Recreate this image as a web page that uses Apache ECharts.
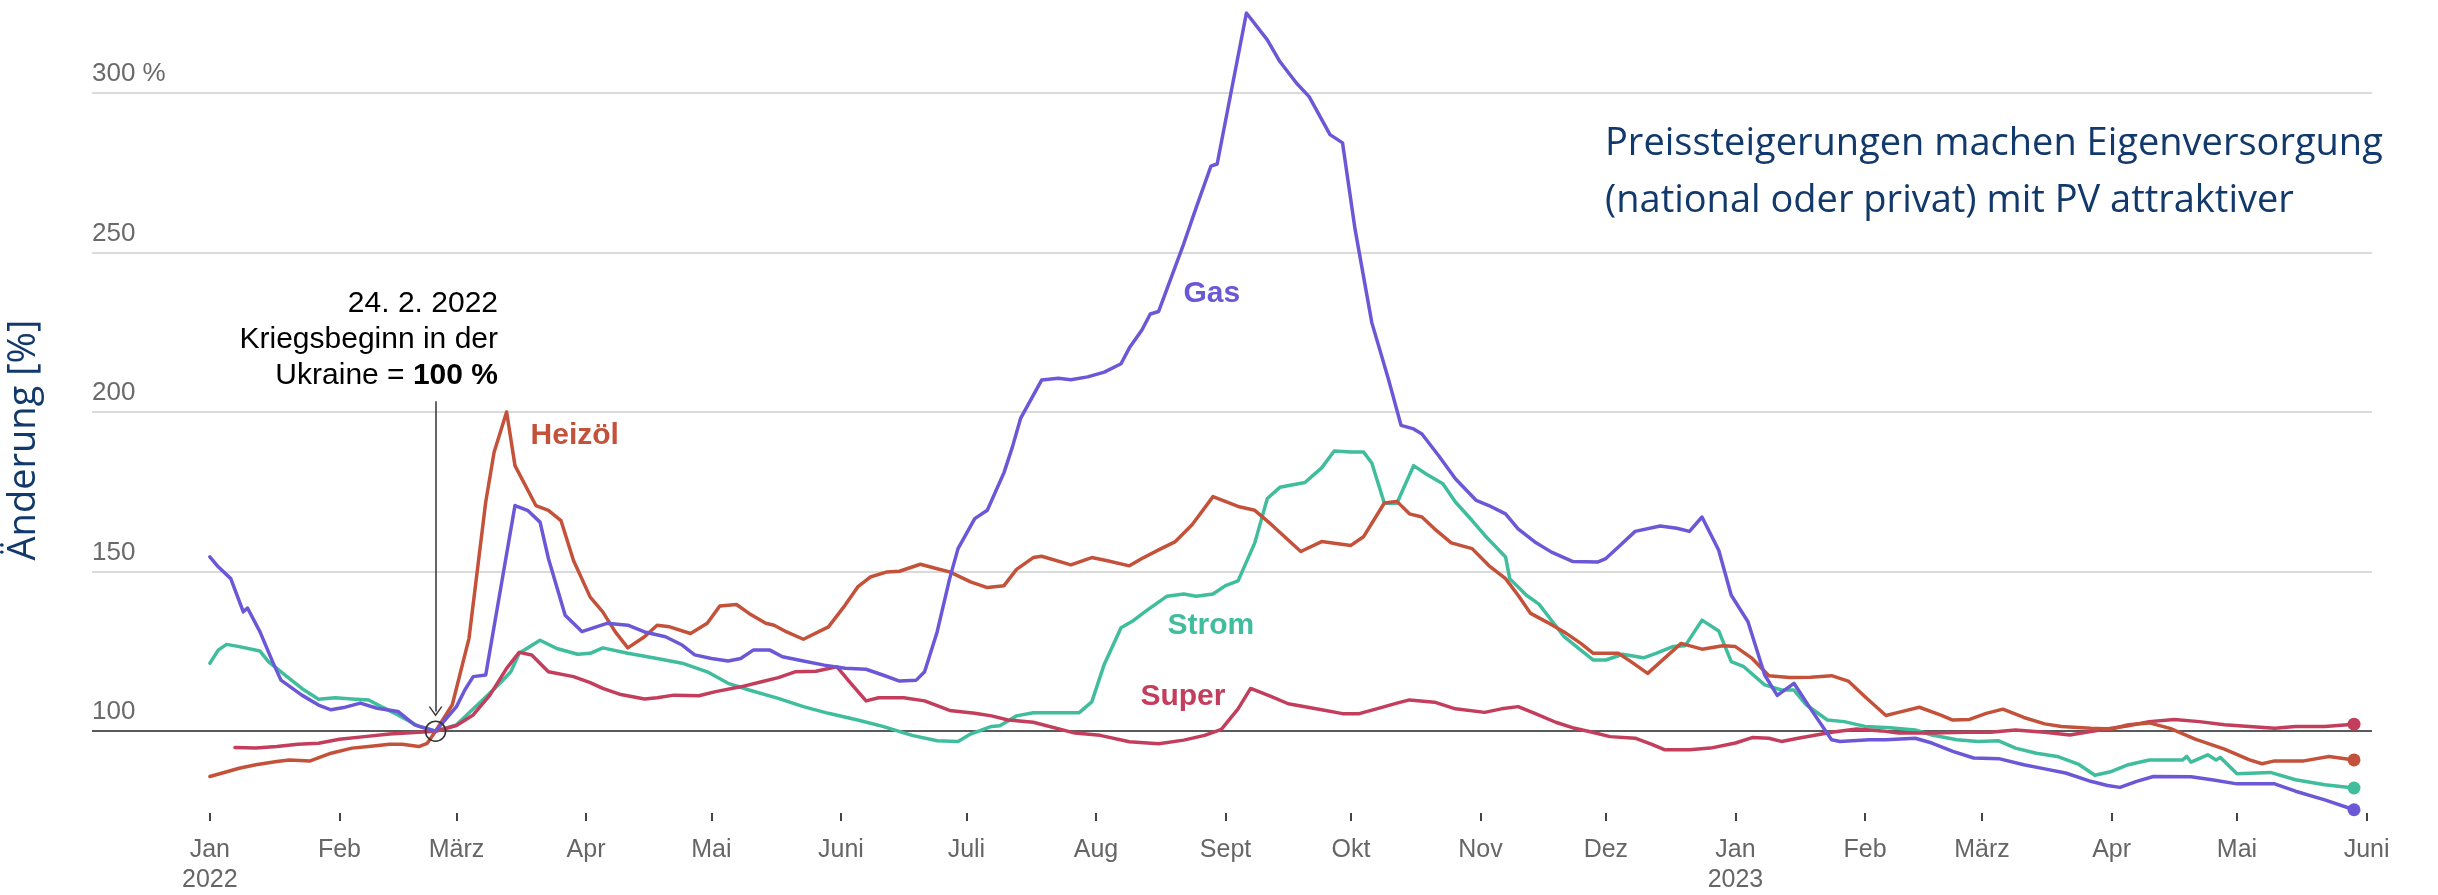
<!DOCTYPE html>
<html><head><meta charset="utf-8">
<script src="https://cdn.jsdelivr.net/npm/echarts@6/dist/echarts.min.js"></script>
<style>html,body{margin:0;padding:0;background:#fff}#c{width:2438px;height:895px}</style>
</head><body><div id="c"></div>
<script>
// x = days since 1 Jan 2022, y = index (24.2.2022 = 100)
const monthTickDays = [0,31,59,90,120,151,181,212,243,273,304,334,365,396,424,455,485,516];
const monthTickLabels = ['Jan\n2022','Feb','März','Apr','Mai','Juni','Juli','Aug','Sept','Okt','Nov','Dez','Jan\n2023','Feb','März','Apr','Mai','Juni'];
const yTickLabels = [100,150,200,250,300];
const warStartDay = 54;

const gas = [[0,154.6],[2,151.5],[5,147.8],[8,137.4],[9,138.6],[12,131.1],[15,121.8],[17,116.0],[22,111.3],[26,108.2],[29,106.7],[32,107.4],[36,108.8],[40,107.2],[45,106.2],[49,102.0],[54,100],[59,107.7],[61,112.9],[63,117.1],[66,117.6],[73,170.7],[76,169.2],[79,165.5],[81,154.1],[85,136.3],[89,131.2],[95,133.8],[100,133.2],[104,131.1],[109,129.6],[113,127.0],[116,123.9],[120,122.8],[124,122.0],[127,122.8],[130,125.4],[134,125.4],[137,123.3],[142,122.0],[147,120.7],[152,119.7],[157,119.4],[161,117.6],[165,115.7],[169,116.0],[171,118.6],[174,131.1],[177,147.8],[179,157.2],[183,166.6],[186,169.2],[190,181],[192,189],[194,198.1],[199,210],[203,210.6],[206,210.1],[210,211],[214,212.5],[218,215.1],[220,220.1],[223,225.7],[225,230.7],[227,231.5],[230,242.1],[233,252.7],[236,264.1],[239.5,277.0],[241,277.7],[248,325],[253,316.6],[256,309.8],[260,303],[263,298.8],[268,286.9],[271,284.3],[274,257.2],[278,228],[282,210.2],[285,195.8],[288,194.7],[290,193.1],[294,186.3],[298,179.1],[303,172.3],[306,170.7],[310,168.1],[313,163.4],[317,159.3],[321,156.1],[326,153.2],[332,153.0],[334,154.1],[337,157.7],[341,162.6],[347,164.3],[351,163.6],[354,162.6],[357,167.1],[361,156.7],[364,142.6],[368,134.3],[372,117.6],[375,111.2],[379,115.0],[383,107],[388,97.3],[390,96.8],[397,97.3],[401,97.3],[408,97.8],[412,96.3],[417,93.7],[422,91.6],[428,91.4],[434,89.5],[439,88.2],[444,86.9],[450,84.3],[454,83.0],[457,82.4],[461,84.3],[465,85.8],[474,85.7],[479,84.8],[485,83.5],[494,83.5],[499,81.2],[506,78.5],[513,75.4]];

const heizoel = [[0,85.8],[3,86.9],[7,88.4],[11,89.5],[16,90.5],[19,91.0],[24,90.7],[29,93.1],[34,94.7],[38,95.2],[43,95.9],[46,95.9],[50,95.2],[52,96.2],[54,100],[58,108.3],[62,129.1],[66,171.8],[68,187.4],[71,200],[73,183.2],[78,170.7],[81,169.2],[84,166.0],[87,153.5],[91,142],[94,137.4],[97,131.1],[100,126.1],[104,129.6],[107,133.2],[110,132.7],[115,130.6],[119,133.8],[122,139.2],[126,139.7],[129,136.9],[133,133.8],[135,133.2],[138,131.1],[142,128.8],[148,132.7],[152,139.5],[155,145.2],[158,148.3],[162,149.9],[165,150.1],[170,152.3],[174,150.9],[177,149.9],[182,146.8],[186,145.0],[190,145.6],[193,150.7],[197,154.4],[199,154.8],[206,152.1],[211,154.4],[215,153.3],[220,151.8],[223,154.1],[227,156.8],[231,159.4],[235,164.7],[240,173.5],[246,170.4],[250,169.2],[254,164.7],[261,156.3],[266,159.4],[273,158.2],[276,160.9],[281,171.5],[284,172.0],[287,168.1],[290,167.1],[293,163.4],[297,159.0],[302,157.2],[306,151.9],[310,147.8],[313,142.6],[316,136.9],[320,134.1],[324,131.1],[328,127.5],[331,124.4],[337,124.4],[340,121.8],[344,118.1],[348,122.8],[352,127.5],[357,125.7],[362,126.8],[365,126.5],[369,122.8],[373,117.4],[378,116.8],[383,116.9],[388,117.4],[392,115.7],[396,110.8],[401,104.9],[404,105.9],[409,107.5],[414,105.1],[417,103.5],[421,103.7],[425,105.6],[429,106.9],[434,104.3],[439,102.3],[443,101.5],[450,100.9],[455,100.7],[459,102.0],[464,102.6],[469,100.9],[475,97.5],[482,94.4],[488,91.0],[491,89.8],[494,90.7],[501,90.7],[507,92.1],[513,91.0]];

const strom = [[0,121.3],[2,125.4],[4,127.2],[7,126.5],[12,125.1],[14,121.8],[18,117.6],[22,113.4],[26,110.0],[30,110.5],[34,110.1],[38,109.8],[41,107.7],[45,105.1],[50,101.5],[54,100],[59,102.0],[64,108.2],[69,114.5],[72,118.6],[74,124.4],[79,128.5],[83,125.9],[88,124.1],[91,124.4],[94,126.1],[100,124.4],[107,122.8],[113,121.3],[119,118.6],[124,115.0],[129,112.9],[136,110.3],[142,107.7],[148,105.6],[155,103.5],[161,101.5],[168,98.7],[174,97.0],[179,96.8],[182,99.1],[187,101.5],[189,101.7],[193,104.8],[197,105.8],[208,105.8],[211,109.2],[214,121.0],[218,132.4],[221,134.7],[224,137.7],[229,142.3],[233,143.0],[236,142.3],[240,143.0],[243,145.6],[246,147.1],[250,159.0],[253,172.9],[256,176.4],[262,177.9],[266,182.5],[269,187.8],[273,187.5],[276,187.5],[278,184.0],[281,171.4],[284,171.4],[288,183.2],[291,180.6],[295,177.5],[298,171.8],[302,166.0],[305,161.4],[310,154.6],[311,147.8],[315,142.6],[318,139.8],[320,136.4],[324,129.6],[328,125.4],[331,122.3],[334,122.3],[338,124.1],[343,123.0],[346,124.4],[350,126.5],[353,126.8],[357,134.8],[361,131.4],[364,121.8],[367,120.2],[372,114.5],[376,112.9],[379,112.9],[382,108.2],[387,103.5],[391,103.0],[396,101.5],[402,101.1],[408,100.4],[412,98.8],[418,97.3],[423,96.8],[428,97.0],[432,94.7],[437,93.1],[442,92.1],[447,89.7],[451,86.2],[455,87.4],[459,89.5],[464,91.0],[472,91.0],[473,92.1],[474,90.3],[478,92.6],[480,91.0],[481,91.8],[485,86.7],[493,87.1],[499,84.8],[506,83.2],[513,82.2]];

const superBenzin = [[6,94.9],[11,94.7],[16,95.2],[21,95.9],[26,96.2],[31,97.5],[37,98.3],[43,99.1],[50,99.7],[54,100],[59,101.8],[63,105.1],[67,111.3],[71,119.7],[74,124.7],[77,123.9],[81,118.6],[87,117.1],[91,115.2],[94,113.4],[98,111.6],[104,110.1],[107,110.5],[111,111.3],[117,111.1],[121,112.4],[127,113.9],[132,115.5],[136,116.8],[140,118.6],[145,118.8],[150,120.2],[153,115.5],[157,109.5],[160,110.5],[166,110.5],[171,109.5],[177,106.5],[183,105.6],[187,104.8],[191,103.5],[197,102.8],[207,99.4],[213,98.7],[220,96.7],[227,96.1],[233,97.2],[238,98.7],[242,100.6],[246,107.0],[249,113.4],[254,110.8],[258,108.6],[266,106.7],[271,105.5],[275,105.5],[280,107.3],[284,108.8],[287,109.8],[293,109.1],[298,107.0],[305,105.9],[309,107.0],[313,107.7],[317,105.6],[322,102.8],[326,101.1],[330,99.9],[335,98.3],[341,97.8],[345,95.9],[348,94.2],[354,94.2],[359,94.7],[365,96.3],[369,98.0],[373,97.8],[376,96.8],[380,97.8],[383,98.5],[388,99.7],[394,100.7],[400,100.1],[404,99.4],[412,99.4],[420,99.7],[426,99.7],[432,100.4],[439,99.7],[445,98.8],[450,99.9],[455,100.9],[459,101.7],[464,103.0],[470,103.7],[476,103.0],[482,102.0],[488,101.5],[494,100.9],[499,101.5],[506,101.5],[513,102.2]];

const seriesNames = ['Strom','Super','Heizöl','Gas'];
const seriesData = [strom, superBenzin, heizoel, gas];
const seriesColors = ['#3fbd9c','#c23e5c','#c4523b','#6a58d6'];
// label anchor points (day, value) for the in-chart series names
const nameAnchors = [[239.5,133.1],[232.8,110.9],[87.3,192.5],[239.7,237.2]];

const FONT = '"Liberation Sans", Arial, sans-serif';
const chart = echarts.init(document.getElementById('c'), null, {renderer:'canvas'});

const chevron = 'path://M0,10L7,0L14,10L12.4,10L7,2.4L1.6,10Z';

const series = seriesNames.map((name, i) => {
  const d = seriesData[i];
  const last = d[d.length - 1];
  const s = {
    name, type: 'line', data: d, showSymbol: false, z: 3,
    lineStyle: {color: seriesColors[i], width: 3.5, join: 'round', cap: 'round'},
    itemStyle: {color: seriesColors[i]},
    emphasis: {disabled: true},
    animation: false,
    markPoint: {
      silent: true, animation: false,
      data: [
        {coord: last, symbol: 'circle', symbolSize: 13, itemStyle: {color: seriesColors[i]}, label: {show: false}},
        {coord: nameAnchors[i], symbol: 'circle', symbolSize: 1, itemStyle: {color: 'rgba(0,0,0,0)'},
         label: {show: true, position: 'inside', formatter: name, color: seriesColors[i],
                 fontFamily: FONT, fontWeight: 'bold', fontSize: 30}}
      ]
    }
  };
  if (i === 0) {
    s.markLine = {
      silent: true, animation: false, z: 1, symbol: 'none',
      label: {show: false},
      data: [
        {yAxis: 150, lineStyle: {color: '#dadada', width: 2, type: 'solid'}},
        {yAxis: 200, lineStyle: {color: '#dadada', width: 2, type: 'solid'}},
        {yAxis: 250, lineStyle: {color: '#dadada', width: 2, type: 'solid'}},
        {yAxis: 300, lineStyle: {color: '#dadada', width: 2, type: 'solid'}},
        {yAxis: 100, lineStyle: {color: '#5a5a5a', width: 2, type: 'solid'}}
      ]
    };
  }
  if (i === 2) {
    s.markLine = {
      silent: true, animation: false, z: 5,
      symbol: ['none', chevron], symbolSize: [14, 10],
      label: {show: false},
      lineStyle: {color: '#333', width: 1.5, type: 'solid'},
      data: [[{coord: [warStartDay, 203.4]}, {coord: [warStartDay, 106.2]}]]
    };
    s.markPoint.data.push({coord: [warStartDay, 100], symbol: 'circle', symbolSize: 20,
      itemStyle: {color: 'rgba(0,0,0,0)', borderColor: '#333', borderWidth: 1.6}, label: {show: false}});
  }
  return s;
});

chart.setOption({
  animation: false,
  backgroundColor: '#fff',
  grid: {left: 92, right: 66, top: 13, bottom: 82, containLabel: false},
  xAxis: {
    type: 'value', min: -28.2, max: 517.3, offset: 2,
    axisLine: {show: false},
    splitLine: {show: false},
    axisTick: {show: true, length: 8, customValues: monthTickDays, lineStyle: {color: '#444', width: 2}},
    axisLabel: {
      customValues: monthTickDays, margin: 22, lineHeight: 30,
      fontFamily: FONT, fontSize: 25, color: '#666',
      formatter: v => { const k = monthTickDays.indexOf(v); return k >= 0 ? monthTickLabels[k] : ''; }
    }
  },
  yAxis: {
    type: 'value', min: 75, max: 325, interval: 25,
    axisLine: {show: false}, axisTick: {show: false}, splitLine: {show: false},
    axisLabel: {
      inside: true, margin: 0, fontFamily: FONT, fontSize: 26, color: '#6a6a6a',
      verticalAlign: 'bottom', padding: [0, 0, 6, 0],
      formatter: v => yTickLabels.indexOf(v) >= 0 ? (v === 300 ? '300 %' : String(v)) : ''
    }
  },
  graphic: [
    {type: 'text', x: 24, y: 440, rotation: Math.PI / 2, silent: true,
     style: {text: 'Änderung [%]', font: '38px "Open Sans", sans-serif', fill: '#12396b',
             textAlign: 'center', textVerticalAlign: 'middle'}},
    {type: 'text', x: 1605, y: 116, silent: true,
     style: {text: 'Preissteigerungen machen Eigenversorgung\n(national oder privat) mit PV attraktiver',
             font: '38px "Open Sans", sans-serif', fill: '#12396b', lineHeight: 57,
             textAlign: 'left', textVerticalAlign: 'top'}},
    {type: 'text', x: 498, y: 286, silent: true,
     style: {text: '{a|24. 2. 2022}\n{a|Kriegsbeginn in der}\n{a|Ukraine = }{b|100 %}',
             textAlign: 'right', textVerticalAlign: 'top',
             rich: {a: {fontFamily: FONT, fontSize: 30, color: '#444', lineHeight: 36},
                    b: {fontFamily: FONT, fontSize: 30, fontWeight: 'bold', color: '#333', lineHeight: 36}}}}
  ],
  series
});
</script></body></html>
